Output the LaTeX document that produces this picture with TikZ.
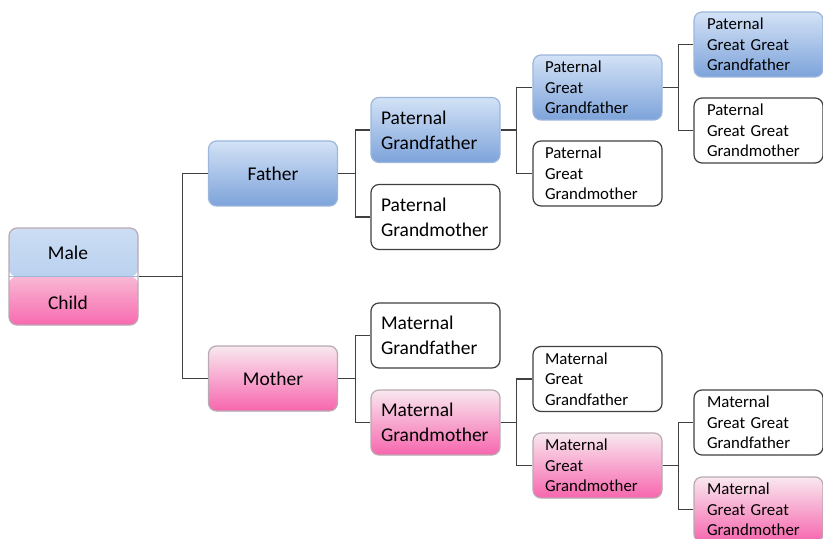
\documentclass[tikz,border=0pt]{standalone}
\usepackage{fontspec}
\setmainfont{Carlito}

\definecolor{bluetop}{HTML}{D3E2F6}
\definecolor{bluebot}{HTML}{7DA3DA}
\definecolor{blueline}{HTML}{9DB6DC}
\definecolor{pinktop}{HTML}{F8E8EF}
\definecolor{pinkbot}{HTML}{F766AE}
\definecolor{pinkline}{HTML}{B9A9B1}
\definecolor{maletop}{HTML}{CCDDF3}
\definecolor{malebot}{HTML}{A8C5EB}
\definecolor{childtop}{HTML}{F8B8D4}
\definecolor{childbot}{HTML}{F86AB0}
\definecolor{linkgray}{HTML}{404040}

\begin{document}
\begin{tikzpicture}[x=0.75pt, y=-0.75pt,
    box/.style={rounded corners=6pt, line width=0.9pt, minimum width=96.75pt,
      minimum height=48.75pt, inner ysep=0pt, align=left},
    gen two/.style={box, inner xsep=7.5pt, text width=81.75pt,
      font=\fontsize{14.6}{18.75}\selectfont},
    gen one/.style={gen two, align=center},
    gen three/.style={box, inner xsep=9pt, text width=78.75pt,
      font=\fontsize{12.6}{15.4}\selectfont},
    gen four/.style={gen three, inner xsep=9.75pt, text width=77.25pt},
    paternal/.style={draw=blueline, top color=bluetop, bottom color=bluebot},
    maternal/.style={draw=pinkline, top color=pinktop, bottom color=pinkbot},
    plain/.style={draw=linkgray, fill=white},
    link/.style={draw=linkgray, line width=0.8pt}]

    \useasboundingbox (0,0) rectangle (823,538);

    % the child
    \node [draw=pinkline, line width=0.9pt, rounded corners=6pt, minimum width=96.75pt,
      minimum height=72.75pt, path picture={
        \shade [top color=maletop, bottom color=malebot]
          (path picture bounding box.north west) rectangle (path picture bounding box.east);
        \shade [top color=childtop, bottom color=childbot]
          (path picture bounding box.west) rectangle (path picture bounding box.south east);
        \draw [blueline] (path picture bounding box.west) -- (path picture bounding box.east);
      }] (child) at (73.5,276.5) {};
    \node [font=\fontsize{14.6}{18.75}\selectfont] (maletext) at (68,253) {Male};
    \node [font=\fontsize{14.6}{18.75}\selectfont] (childtext) at (68,302.5) {Child};

    % parents and grandparents
    \node [gen one, paternal] (father) at (273,173.5) {Father};
    \node [gen one, maternal] (mother) at (273,378.5) {Mother};
    \node [gen two, paternal] (pgf) at (435.5,130) {Paternal\\Grandfather};
    \node [gen two, plain] (pgm) at (435.5,217) {Paternal\\Grandmother};
    \node [gen two, plain] (mgf) at (435.5,335.5) {Maternal\\Grandfather};
    \node [gen two, maternal] (mgm) at (435.5,422.5) {Maternal\\Grandmother};

    % great grandparents
    \node [gen three, paternal] (pggf) at (597.5,87.5) {Paternal\\Great\\Grandfather};
    \node [gen three, plain] (pggm) at (597.5,173.5) {Paternal\\Great\\Grandmother};
    \node [gen three, plain] (mggf) at (597.5,379) {Maternal\\Great\\Grandfather};
    \node [gen three, maternal] (mggm) at (597.5,465.5) {Maternal\\Great\\Grandmother};

    % great great grandparents
    \node [gen four, paternal] (pgggf) at (758.5,44.5) {Paternal\\Great Great\\Grandfather};
    \node [gen four, plain] (pgggm) at (758.5,130.5) {Paternal\\Great Great\\Grandmother};
    \node [gen four, plain] (mgggf) at (758.5,422.5) {Maternal\\Great Great\\Grandfather};
    \node [gen four, maternal] (mgggm) at (758.5,509.5) {Maternal\\Great Great\\Grandmother\par\vspace{3pt}};

    \draw [link] (child.east) -- ++(44,0) |- (father.west);
    \draw [link] (child.east) -- ++(44,0) |- (mother.west);
    \draw [link] (father.east) -- ++(17,0) |- (pgf.west);
    \draw [link] (father.east) -- ++(17,0) |- (pgm.west);
    \draw [link] (mother.east) -- ++(17,0) |- (mgf.west);
    \draw [link] (mother.east) -- ++(17,0) |- (mgm.west);
    \draw [link] (pgf.east) -- ++(16,0) |- (pggf.west);
    \draw [link] (pgf.east) -- ++(16,0) |- (pggm.west);
    \draw [link] (mgm.east) -- ++(16,0) |- (mggf.west);
    \draw [link] (mgm.east) -- ++(16,0) |- (mggm.west);
    \draw [link] (pggf.east) -- ++(16,0) |- (pgggf.west);
    \draw [link] (pggf.east) -- ++(16,0) |- (pgggm.west);
    \draw [link] (mggm.east) -- ++(16,0) |- (mgggf.west);
    \draw [link] (mggm.east) -- ++(16,0) |- (mgggm.west);
\end{tikzpicture}
\end{document}
